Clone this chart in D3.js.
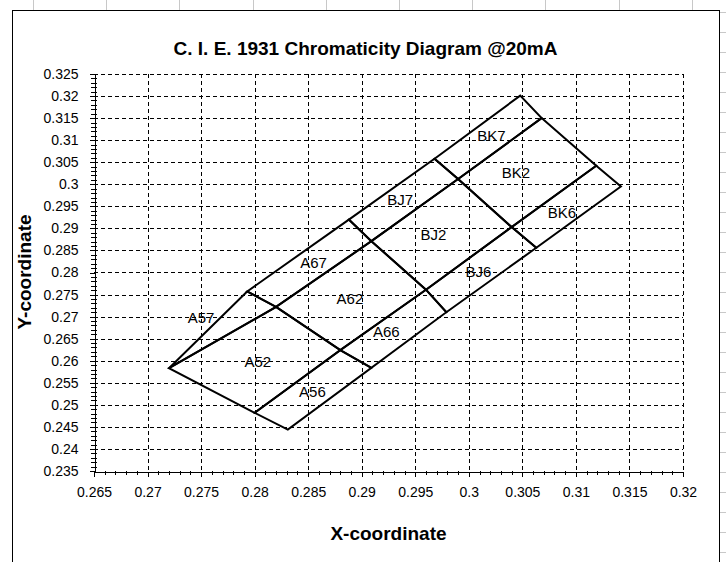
<!DOCTYPE html>
<html>
<head>
<meta charset="utf-8">
<script src="https://cdn.jsdelivr.net/npm/d3@7"></script>
<style>
body { margin: 0; background: #fff; }
text { font-family: "Liberation Sans", Arial, sans-serif; fill: #000; }
</style>
</head>
<body>
<svg width="726" height="562"></svg>
<script>
// Bin names, corners (CIE x / y) and label anchors
var binNames = ["A57", "A52", "A56", "A67", "A62", "A66", "BJ7", "BJ2", "BJ6", "BK7", "BK2", "BK6"];
var binX = [
  [0.2720, 0.2793, 0.2820, 0.2720],
  [0.2720, 0.2820, 0.2880, 0.2800],
  [0.2800, 0.2880, 0.2909, 0.2831],
  [0.2793, 0.2888, 0.2909, 0.2820],
  [0.2820, 0.2909, 0.2960, 0.2880],
  [0.2880, 0.2960, 0.2979, 0.2909],
  [0.2888, 0.2968, 0.2990, 0.2909],
  [0.2909, 0.2990, 0.3040, 0.2960],
  [0.2960, 0.3040, 0.3063, 0.2979],
  [0.2968, 0.3048, 0.3068, 0.2990],
  [0.2990, 0.3068, 0.3119, 0.3040],
  [0.3040, 0.3119, 0.3142, 0.3063]
];
var binY = [
  [0.2583, 0.2757, 0.2722, 0.2583],
  [0.2583, 0.2722, 0.2624, 0.2482],
  [0.2482, 0.2624, 0.2584, 0.2444],
  [0.2757, 0.2920, 0.2871, 0.2722],
  [0.2722, 0.2871, 0.2761, 0.2624],
  [0.2624, 0.2761, 0.2710, 0.2584],
  [0.2920, 0.3058, 0.3012, 0.2871],
  [0.2871, 0.3012, 0.2903, 0.2761],
  [0.2761, 0.2903, 0.2856, 0.2710],
  [0.3058, 0.3201, 0.3150, 0.3012],
  [0.3012, 0.3150, 0.3042, 0.2903],
  [0.2903, 0.3042, 0.2995, 0.2856]
];
var labelX = [0.2750, 0.2803, 0.2854, 0.2855, 0.2889, 0.2923, 0.2936, 0.2967, 0.3009, 0.3021, 0.3044, 0.3087];
var labelY = [0.2697, 0.2597, 0.2529, 0.2822, 0.2741, 0.2665, 0.2965, 0.2886, 0.2801, 0.3110, 0.3026, 0.2936];

var xTicks = [0.265, 0.27, 0.275, 0.28, 0.285, 0.29, 0.295, 0.3, 0.305, 0.31, 0.315, 0.32];
var yTicks = [0.235, 0.24, 0.245, 0.25, 0.255, 0.26, 0.265, 0.27, 0.275, 0.28, 0.285,
              0.29, 0.295, 0.3, 0.305, 0.31, 0.315, 0.32, 0.325];

var svg = d3.select("svg");

// sheet cell lines around the chart object
var sheet = svg.append("g").attr("stroke", "#c8c8c8").attr("shape-rendering", "crispEdges");
for (var cx = 33; cx < 726; cx += 73.2) {
  sheet.append("line").attr("x1", Math.round(cx) + 0.5).attr("x2", Math.round(cx) + 0.5)
    .attr("y1", 0).attr("y2", 10);
}
for (var ry = 12; ry < 562; ry += 20) {
  sheet.append("line").attr("x1", 720).attr("x2", 726).attr("y1", ry + 0.5).attr("y2", ry + 0.5);
}

// chart border
svg.append("path")
  .attr("d", "M12.5,570 V10.5 H719.5 V570")
  .attr("fill", "#fff").attr("stroke", "#000").attr("shape-rendering", "crispEdges");

// scales
var x = d3.scaleLinear().domain([0.265, 0.32]).range([94, 683]);
var y = d3.scaleLinear().domain([0.235, 0.325]).range([471, 74]);
var fmt = d3.format(".3~f");

// dashed grid
var grid = svg.append("g")
  .attr("stroke", "#000").attr("stroke-dasharray", "4,3").attr("shape-rendering", "crispEdges");
grid.selectAll(".vg").data(xTicks.slice(1)).enter().append("line")
  .attr("x1", function (d) { return Math.round(x(d)) + 0.5; })
  .attr("x2", function (d) { return Math.round(x(d)) + 0.5; })
  .attr("y1", y(0.325)).attr("y2", y(0.235));
grid.selectAll(".hg").data(yTicks.slice(1)).enter().append("line")
  .attr("y1", function (d) { return Math.round(y(d)) + 0.5; })
  .attr("y2", function (d) { return Math.round(y(d)) + 0.5; })
  .attr("x1", x(0.265)).attr("x2", x(0.32));

// minor ticks, four between each pair of major ticks
function minors(ticks) {
  var out = [];
  for (var i = 0; i < ticks.length - 1; i++) {
    for (var k = 1; k < 5; k++) out.push(ticks[i] + (ticks[i + 1] - ticks[i]) * k / 5);
  }
  return out;
}
var mt = svg.append("g").attr("stroke", "#000").attr("shape-rendering", "crispEdges");
mt.selectAll(".mx").data(minors(xTicks)).enter().append("line")
  .attr("x1", function (d) { return Math.round(x(d)) + 0.5; })
  .attr("x2", function (d) { return Math.round(x(d)) + 0.5; })
  .attr("y1", 471).attr("y2", 475);
mt.selectAll(".my").data(minors(yTicks)).enter().append("line")
  .attr("y1", function (d) { return Math.round(y(d)) + 0.5; })
  .attr("y2", function (d) { return Math.round(y(d)) + 0.5; })
  .attr("x1", 91).attr("x2", 97);

// axes
svg.append("g")
  .attr("transform", "translate(0,471.5)")
  .call(d3.axisBottom(x).tickValues(xTicks).tickFormat(fmt).tickSize(5).tickSizeOuter(0).tickPadding(11));
svg.append("g")
  .attr("transform", "translate(94.5,0)")
  .call(d3.axisLeft(y).tickValues(yTicks).tickFormat(fmt).tickSize(5).tickSizeOuter(0).tickPadding(11));
svg.selectAll(".domain, .tick line").attr("stroke", "#000").attr("shape-rendering", "crispEdges");
svg.selectAll(".tick text").attr("font-family", "Liberation Sans, Arial, sans-serif")
  .attr("font-size", 14).attr("fill", "#000");

// bin outlines
var line = d3.line()
  .x(function (d) { return x(d[0]); })
  .y(function (d) { return y(d[1]); })
  .curve(d3.curveLinearClosed);
svg.append("g").selectAll("path").data(binNames).enter().append("path")
  .attr("d", function (d, i) { return line(d3.zip(binX[i], binY[i])); })
  .attr("fill", "none").attr("stroke", "#000").attr("stroke-width", 2)
  .attr("stroke-linejoin", "miter");

// bin labels
svg.append("g").selectAll("text").data(binNames).enter().append("text")
  .attr("x", function (d, i) { return x(labelX[i]); })
  .attr("y", function (d, i) { return y(labelY[i]); })
  .attr("dy", "0.36em")
  .attr("text-anchor", "middle")
  .attr("font-size", 15)
  .text(function (d) { return d; });

// titles
svg.append("text").attr("x", 365.5).attr("y", 55).attr("text-anchor", "middle")
  .attr("font-size", 19).attr("font-weight", "bold")
  .text("C. I. E. 1931 Chromaticity Diagram @20mA");
svg.append("text").attr("x", 388.5).attr("y", 540).attr("text-anchor", "middle")
  .attr("font-size", 19).attr("font-weight", "bold")
  .text("X-coordinate");
svg.append("text").attr("transform", "translate(31,272) rotate(-90)").attr("text-anchor", "middle")
  .attr("font-size", 19).attr("font-weight", "bold")
  .text("Y-coordinate");
</script>
</body>
</html>
